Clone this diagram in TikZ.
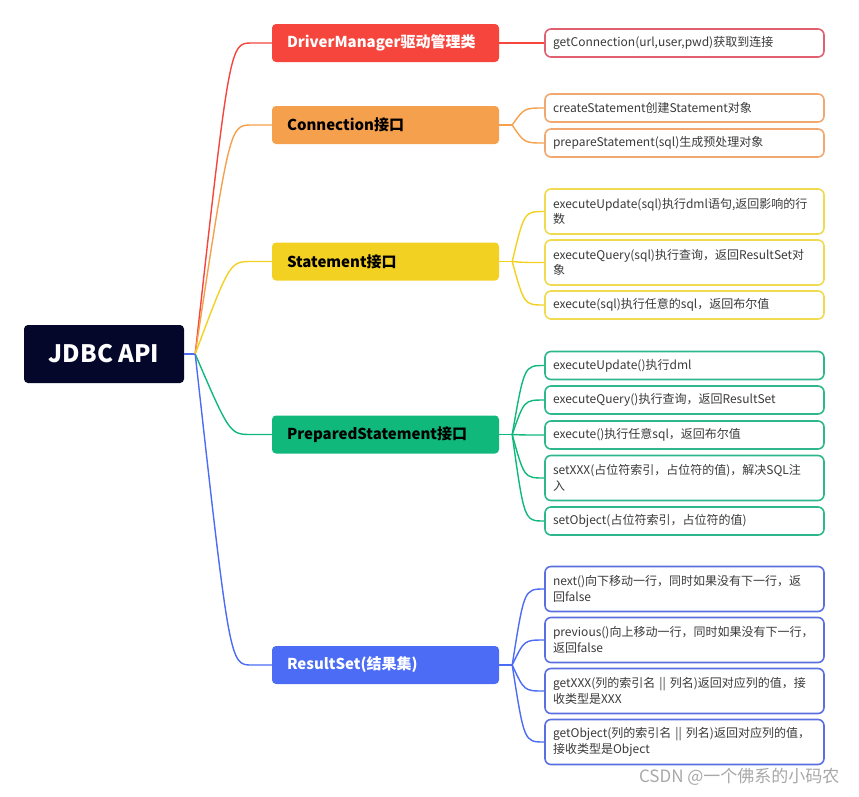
\documentclass[tikz,border=0pt]{standalone}
\usepackage{fontspec}
\setmainfont{Noto Sans CJK SC}
\usepackage{xcolor}

\definecolor{cnavy}{HTML}{04062A}
\definecolor{cred}{HTML}{F5453C}
\definecolor{corange}{HTML}{F5A04C}
\definecolor{cyellow}{HTML}{F2D123}
\definecolor{cgreen}{HTML}{10B87C}
\definecolor{cblue}{HTML}{4C6CF5}
\definecolor{lred}{HTML}{E06070}
\definecolor{lorange}{HTML}{F0A870}
\definecolor{lyellow}{HTML}{F0DA50}
\definecolor{lgreen}{HTML}{2EB68C}
\definecolor{lblue}{HTML}{5A70E0}
\definecolor{ctext}{HTML}{3A3A3A}
\definecolor{cmark}{HTML}{A8A8A8}

\tikzset{
  root/.style={fill=cnavy, text=white, rounded corners=4pt, minimum width=160pt,
    minimum height=58pt, font=\fontsize{24}{28}\selectfont\bfseries},
  branch/.style={rounded corners=4pt, text width=197pt, inner xsep=15pt, align=left,
    minimum height=38pt, font=\fontsize{15}{18}\selectfont\bfseries},
  leaf/.style={draw, line width=1.6pt, fill=white, rounded corners=6pt, text width=263pt,
    inner xsep=8pt, inner ysep=6pt, minimum height=28pt, align=left, text=ctext,
    font=\fontsize{12}{15.5}\selectfont},
  tall/.style={minimum height=45pt},
  link/.style={line width=1.4pt},
}

\begin{document}
\begin{tikzpicture}[x=1pt, y=-1pt]
  \useasboundingbox (0,0) rectangle (859,796);

  % root and main branches
  \node[root] (jdbc) at (104,354) {JDBC API};
  \node[branch, fill=cred, text=white] (dm) at (385.5,43) {DriverManager驱动管理类};
  \node[branch, fill=corange] (conn) at (385.5,125) {Connection接口};
  \node[branch, fill=cyellow] (stmt) at (385.5,261.5) {Statement接口};
  \node[branch, fill=cgreen] (pstmt) at (385.5,434.5) {PreparedStatement接口};
  \node[branch, fill=cblue, text=white] (rs) at (385.5,665) {ResultSet(结果集)};

  % leaves
  \node[leaf, draw=lred] (dm1) at (684.5,43) {getConnection(url,user,pwd)获取到连接};

  \node[leaf, draw=lorange] (conn1) at (684.5,108) {createStatement创建Statement对象};
  \node[leaf, draw=lorange] (conn2) at (684.5,143) {prepareStatement(sql)生成预处理对象};

  \node[leaf, tall, draw=lyellow] (stmt1) at (684.5,211.5) {executeUpdate(sql)执行dml语句,返回影响的行\\数};
  \node[leaf, tall, draw=lyellow] (stmt2) at (684.5,262.5) {executeQuery(sql)执行查询，返回ResultSet对\\象};
  \node[leaf, draw=lyellow] (stmt3) at (684.5,305) {execute(sql)执行任意的sql，返回布尔值};

  \node[leaf, draw=lgreen] (pstmt1) at (684.5,365.5) {executeUpdate()执行dml};
  \node[leaf, draw=lgreen] (pstmt2) at (684.5,400) {executeQuery()执行查询，返回ResultSet};
  \node[leaf, draw=lgreen] (pstmt3) at (684.5,435) {execute()执行任意sql，返回布尔值};
  \node[leaf, tall, draw=lgreen] (pstmt4) at (684.5,478) {setXXX(占位符索引，占位符的值)，解决SQL注\\入};
  \node[leaf, draw=lgreen] (pstmt5) at (684.5,521) {setObject(占位符索引，占位符的值)};

  \node[leaf, tall, draw=lblue] (rs1) at (684.5,589) {next()向下移动一行，同时如果没有下一行，返\\回false};
  \node[leaf, tall, draw=lblue] (rs2) at (684.5,640) {previous()向上移动一行，同时如果没有下一行，\\返回false};
  \node[leaf, tall, draw=lblue] (rs3) at (684.5,691) {getXXX(列的索引名 || 列名)返回对应列的值，接\\收类型是XXX};
  \node[leaf, tall, draw=lblue] (rs4) at (684.5,742) {getObject(列的索引名 || 列名)返回对应列的值，\\接收类型是Object};

  % root connectors
  \coordinate (hub) at ([xshift=11pt]jdbc.east);
  \draw[link, cblue] (jdbc.east) -- (hub);
  \foreach \b/\c in {dm/cred, conn/corange, stmt/cyellow, pstmt/cgreen, rs/cblue}
    \draw[link, \c] (hub) .. controls ([xshift=-42pt]\b.west) .. ([xshift=-20pt]\b.west) -- (\b.west);

  % leaf connectors
  \draw[link, cred] (dm.east) -- (dm1.west);
  \foreach \b/\c/\n in {conn/corange/2, stmt/cyellow/3, pstmt/cgreen/5, rs/cblue/4} {
    \coordinate (\b hub) at ([xshift=13pt]\b.east);
    \draw[link, \c] (\b.east) -- (\b hub);
    \foreach \i in {1,...,\n}
      \draw[link, \c] (\b hub) .. controls ([xshift=-20pt]\b\i.west) .. (\b\i.west);
  }

  % watermark
  \node[anchor=east, text=cmark, font=\fontsize{17}{20}\selectfont] (mark) at (843,777) {CSDN @一个佛系的小码农};
\end{tikzpicture}
\end{document}
